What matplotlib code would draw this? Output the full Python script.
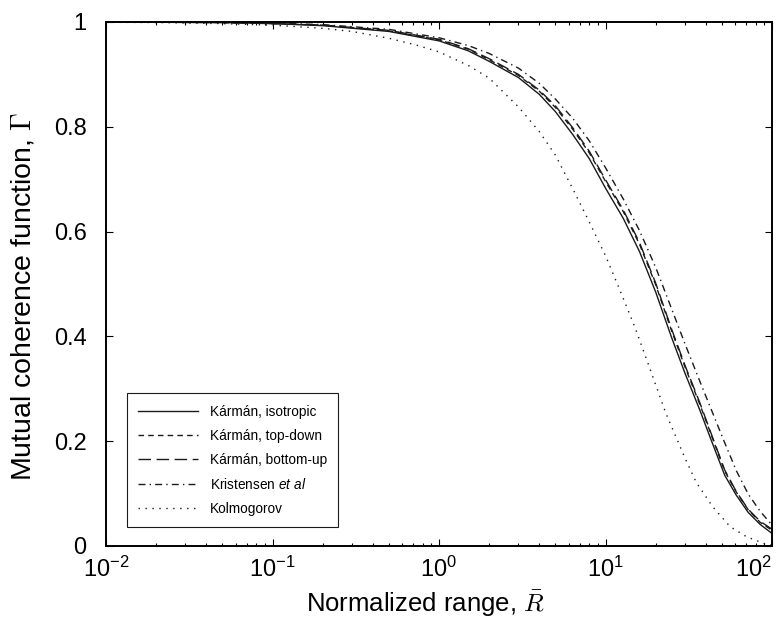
import numpy as np
import matplotlib
matplotlib.use("Agg")
from matplotlib import pyplot as plt

# Fonts: Arial-like text, Computer Modern for the math symbols
plt.rcParams.update({
    "font.family": ["Liberation Sans", "DejaVu Sans"],
    "mathtext.fontset": "custom",
    "mathtext.rm": "cmr10",
    "mathtext.it": "cmmi10",
    "mathtext.sf": "Liberation Sans:italic",
    "axes.unicode_minus": True,
})

# Values
R = [0.01, 0.02, 0.05, 0.1, 0.2, 0.5, 1, 1.5, 2, 3, 4, 5, 6.4, 8, 10, 12.8,
     16, 20, 25, 30, 37, 44, 52, 61, 72, 85, 100]
karman_iso = [1.0, 0.9995, 0.999, 0.997, 0.993, 0.982, 0.964, 0.945, 0.925,
              0.894, 0.862, 0.829, 0.784, 0.739, 0.683, 0.625, 0.562, 0.485,
              0.397, 0.330, 0.258, 0.195, 0.135, 0.097, 0.064, 0.041, 0.024]
karman_top = [1.0, 0.9995, 0.999, 0.997, 0.994, 0.983, 0.966, 0.948, 0.928,
              0.898, 0.868, 0.837, 0.794, 0.750, 0.696, 0.638, 0.576, 0.499,
              0.410, 0.342, 0.269, 0.205, 0.143, 0.103, 0.069, 0.045, 0.030]
karman_bottom = [1.0, 0.9995, 0.999, 0.997, 0.994, 0.984, 0.967, 0.949, 0.930,
                 0.900, 0.870, 0.840, 0.797, 0.753, 0.699, 0.641, 0.579, 0.502,
                 0.413, 0.345, 0.272, 0.207, 0.145, 0.104, 0.070, 0.047, 0.032]
kristensen = [1.0, 0.9997, 0.999, 0.998, 0.995, 0.986, 0.970, 0.955, 0.940,
              0.912, 0.883, 0.853, 0.815, 0.773, 0.722, 0.662, 0.602, 0.532,
              0.452, 0.386, 0.313, 0.254, 0.197, 0.144, 0.099, 0.066, 0.040]

R_kol = [0.01, 0.02, 0.05, 0.1, 0.2, 0.3, 0.5, 0.75, 1, 1.5, 2, 3, 4, 5, 6.4,
         8, 10, 12, 15, 18.5, 23, 30, 35, 44, 56, 70, 89, 100]
kolmogorov = [0.9995, 0.999, 0.997, 0.994, 0.988, 0.982, 0.969, 0.955, 0.943,
              0.917, 0.893, 0.838, 0.791, 0.746, 0.680, 0.618, 0.554, 0.494,
              0.418, 0.338, 0.254, 0.168, 0.122, 0.075, 0.037, 0.018, 0.005,
              0.002]

x_ticks = [1e-2, 1e-1, 1e0, 1e1, 1e2]
y_ticks = [0, 0.2, 0.4, 0.6, 0.8, 1]
y_ticklabels = ["0", "0.2", "0.4", "0.6", "0.8", "1"]

col = "#1a1a1a"

fig = plt.figure(figsize=(7.78, 6.24), dpi=100)
ax = fig.add_axes([106/778, 1-546/624, 666/778, 524/624])

ax.semilogx(R, karman_iso, color=col, lw=1.0, ls="-", label="Kármán, isotropic")
ax.semilogx(R, karman_top, color=col, lw=1.0, ls=(0, (4, 3)), label="Kármán, top-down")
ax.semilogx(R, karman_bottom, color=col, lw=1.0, ls=(0, (9, 4)), label="Kármán, bottom-up")
ax.semilogx(R, kristensen, color=col, lw=1.0, ls=(0, (5, 3, 1, 3)),
            label=r"Kristensen $\mathsf{et\ al}$")
ax.semilogx(R_kol, kolmogorov, color=col, lw=1.0, ls=(0, (1, 4)), label="Kolmogorov")

ax.set_xlim(1e-2, 1e2)
ax.set_ylim(0, 1)
ax.set_xticks(x_ticks)
ax.set_yticks(y_ticks)
ax.set_yticklabels(y_ticklabels)

ax.tick_params(which="both", direction="in", top=True, right=True, labelsize=17)
ax.tick_params(axis="x", which="major", pad=8)
ax.tick_params(axis="y", which="major", pad=14)
ax.tick_params(which="major", length=5, width=0.8)
ax.tick_params(which="minor", length=2.5, width=0.8)
for s in ax.spines.values():
    s.set_linewidth(1.4)

ax.set_xlabel(r"Normalized range, $\bar{R}$", fontsize=18.5)
ax.set_ylabel(r"Mutual coherence function, $\Gamma$", fontsize=20.5)
ax.xaxis.set_label_coords(0.48, -0.082)
ax.yaxis.set_label_coords(-0.105, 0.475)

# last x label pulled inside the figure, as in the original
for t in ax.get_xticklabels()[-1:]:
    t.set_horizontalalignment("right")

leg = ax.legend(loc="lower left", bbox_to_anchor=(0.031, 0.036), borderaxespad=0,
                fontsize=9.8, handlelength=4.4, handletextpad=0.85, borderpad=0.85,
                fancybox=False, framealpha=1, edgecolor=col, labelspacing=0.73)
leg.get_frame().set_linewidth(0.8)

plt.savefig("out.png", dpi=100)
